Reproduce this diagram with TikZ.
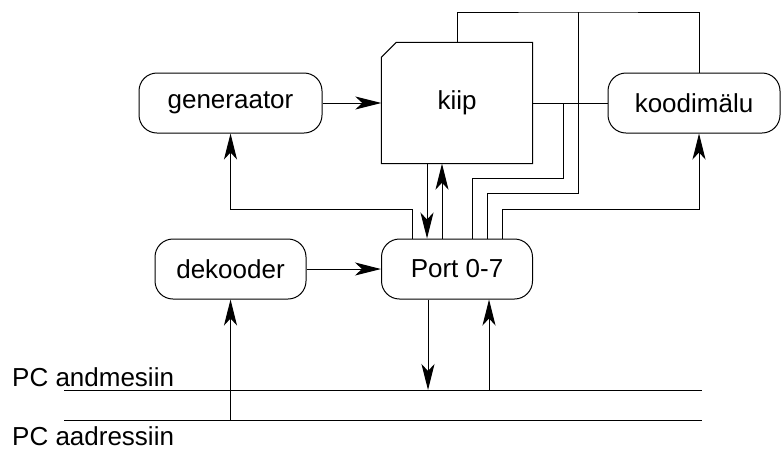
\documentclass[tikz,border=0pt]{standalone}
\usepackage{fontspec}
\setmainfont{Liberation Sans}
\usetikzlibrary{arrows.meta,positioning,calc}
\tikzset{
  bx/.style={draw, line width=1pt, rounded corners=18pt, minimum height=60pt, inner sep=0pt, align=center},
  chip/.style={minimum width=151pt, minimum height=121pt, inner sep=0pt},
  arr/.style={-{Stealth[length=26pt, width=13pt, inset=7pt]}, line width=1pt},
  wire/.style={line width=1pt},
  lbl/.style={anchor=base west, inner sep=0pt},
}

\begin{document}
\begin{tikzpicture}[x=1pt, y=-1pt, font=\fontsize{26}{31}\selectfont]
  \useasboundingbox (0,0) rectangle (781,448);
  % blocks
  \node[bx, minimum width=183pt] (gen) at (230.5,103) {generaator};
  \node[chip] (kiip) at (457,103) {kiip};
  \draw[wire] ($(kiip.north west)+(0,15)$) -- ($(kiip.north west)+(15,0)$) -- (kiip.north east)
    -- (kiip.south east) -- (kiip.south west) -- cycle;
  \node[bx, minimum width=172pt] (koodi) at (694,103) {koodimälu};
  \node[bx, minimum width=151pt] (dek) at (230.5,269) {dekooder};
  \node[bx, minimum width=151pt] (port) at (457,269) {Port 0-7};
  % taps
  \coordinate (pg) at ([xshift=-45pt]port.north);
  \coordinate (pd) at ([xshift=-30pt]port.north);
  \coordinate (pu) at ([xshift=-15pt]port.north);
  \coordinate (p1) at ([xshift=15pt]port.north);
  \coordinate (p2) at ([xshift=30pt]port.north);
  \coordinate (pk) at ([xshift=45pt]port.north);
  \coordinate (q1) at ([xshift=-29pt]port.south);
  \coordinate (q2) at ([xshift=32pt]port.south);
  \coordinate (kt) at ([xshift=5pt]koodi.north);
  \coordinate (j1) at (563,103);
  \coordinate (j2) at (578,12);
  \coordinate (r1) at (0,178);
  \coordinate (r2) at (0,193);
  \coordinate (fb) at (0,209);
  % connections
  \draw[arr] (gen) -- (kiip);
  \draw[arr] (dek) -- (port);
  \draw[wire] (kiip) -- (koodi);
  \draw[arr] (pd |- kiip.south) -- (pd);
  \draw[arr] (pu) -- (pu |- kiip.south);
  \draw[arr] (pg) |- (fb -| gen.south) -- (gen.south);
  \draw[arr] (pk) |- (fb -| kt) -- (koodi.south -| kt);
  \draw[wire] (p1) |- (j1 |- r1) -- (j1);
  \draw[wire] (p2) |- (j2 |- r2) -- (j2);
  \draw[wire] (kiip.north) |- (j2) -| (kt);
  % PC bus
  \coordinate (dA) at (64,390);
  \coordinate (dB) at (702,390);
  \coordinate (aA) at (64,420);
  \coordinate (aB) at (702,420);
  \draw[wire] (dA) -- (dB);
  \draw[wire] (aA) -- (aB);
  \node[lbl] (ldat) at (12,386) {PC andmesiin};
  \node[lbl] (ladr) at (12,445) {PC aadressiin};
  \draw[arr] (dek.south |- aA) -- (dek.south);
  \draw[arr] (q1) -- (q1 |- dA);
  \draw[arr] (q2 |- dA) -- (q2);
\end{tikzpicture}
\end{document}
